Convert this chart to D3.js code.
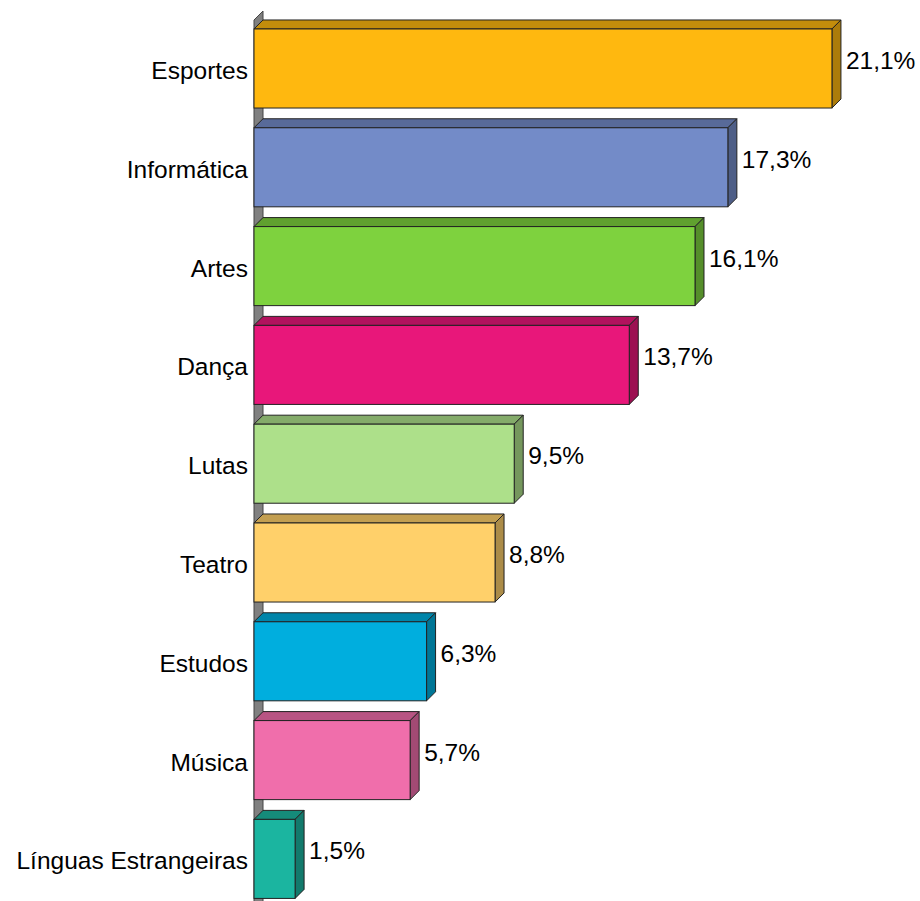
<!DOCTYPE html>
<html>
<head>
<meta charset="utf-8">
<script src="https://cdn.jsdelivr.net/npm/d3@7"></script>
<style>
  body { margin: 0; background: #fff; }
  text { font-family: "Liberation Sans", Arial, sans-serif; }
</style>
</head>
<body>
<div id="chart"></div>
<script>
var categories = ["Esportes", "Informática", "Artes", "Dança", "Lutas", "Teatro", "Estudos", "Música", "Línguas Estrangeiras"];
var values = [21.1, 17.3, 16.1, 13.7, 9.5, 8.8, 6.3, 5.7, 1.5];
var labels = ["21,1%", "17,3%", "16,1%", "13,7%", "9,5%", "8,8%", "6,3%", "5,7%", "1,5%"];
var frontColors = ["#ffb80f", "#738bc8", "#7ed23e", "#e8177a", "#ade08a", "#ffd06a", "#00aede", "#f06eab", "#1bb5a0"];

var width = 920,
    height = 901,
    depth = 9;

var svg = d3.select("#chart").append("svg")
    .attr("width", width)
    .attr("height", height);

var x = d3.scaleLinear()
    .domain([0, 22])
    .range([254, 856.6]);

var y = d3.scaleBand()
    .domain(categories)
    .range([19.1, 908.3])
    .paddingInner(0.2)
    .paddingOuter(0.1);

// side wall behind the bars
var x0 = x(0);
svg.append("polygon")
    .attr("points", [[x0, 20], [x0 + depth, 20 - depth], [x0 + depth, height + 20], [x0, height + 20]].join(" "))
    .attr("fill", "#808080")
    .attr("stroke", "#444")
    .attr("stroke-width", 1);

var bar = svg.selectAll(".bar")
    .data(categories)
    .enter().append("g")
    .attr("class", "bar");

// top face
bar.append("polygon")
    .attr("points", function(d, i) {
        var y0 = y(d), x1 = x(values[i]);
        return [[x0, y0], [x0 + depth, y0 - depth], [x1 + depth, y0 - depth], [x1, y0]].join(" ");
    })
    .attr("fill", function(d, i) { return d3.color(frontColors[i]).darker(0.75); })
    .attr("stroke", "#222")
    .attr("stroke-width", 1);

// right face
bar.append("polygon")
    .attr("points", function(d, i) {
        var y0 = y(d), x1 = x(values[i]), h = y.bandwidth();
        return [[x1, y0], [x1 + depth, y0 - depth], [x1 + depth, y0 + h - depth], [x1, y0 + h]].join(" ");
    })
    .attr("fill", function(d, i) { return d3.color(frontColors[i]).darker(1.1); })
    .attr("stroke", "#222")
    .attr("stroke-width", 1);

// front face
bar.append("rect")
    .attr("x", x0)
    .attr("y", function(d) { return y(d); })
    .attr("width", function(d, i) { return x(values[i]) - x0; })
    .attr("height", y.bandwidth())
    .attr("fill", function(d, i) { return frontColors[i]; })
    .attr("stroke", "#222")
    .attr("stroke-width", 1);

// value labels
bar.append("text")
    .attr("x", function(d, i) { return x(values[i]) + depth + 5; })
    .attr("y", function(d) { return y(d) + y.bandwidth() / 2 - 8; })
    .attr("dy", ".35em")
    .attr("font-size", 24.5)
    .attr("fill", "#000")
    .text(function(d, i) { return labels[i]; });

// category labels
svg.append("g")
    .attr("transform", "translate(" + (x0 - 6) + ",0)")
    .selectAll("text")
    .data(categories)
    .enter().append("text")
    .attr("text-anchor", "end")
    .attr("y", function(d) { return y(d) + y.bandwidth() / 2 + 2; })
    .attr("dy", ".35em")
    .attr("font-size", 24.5)
    .attr("fill", "#000")
    .text(function(d) { return d; });
</script>
</body>
</html>
